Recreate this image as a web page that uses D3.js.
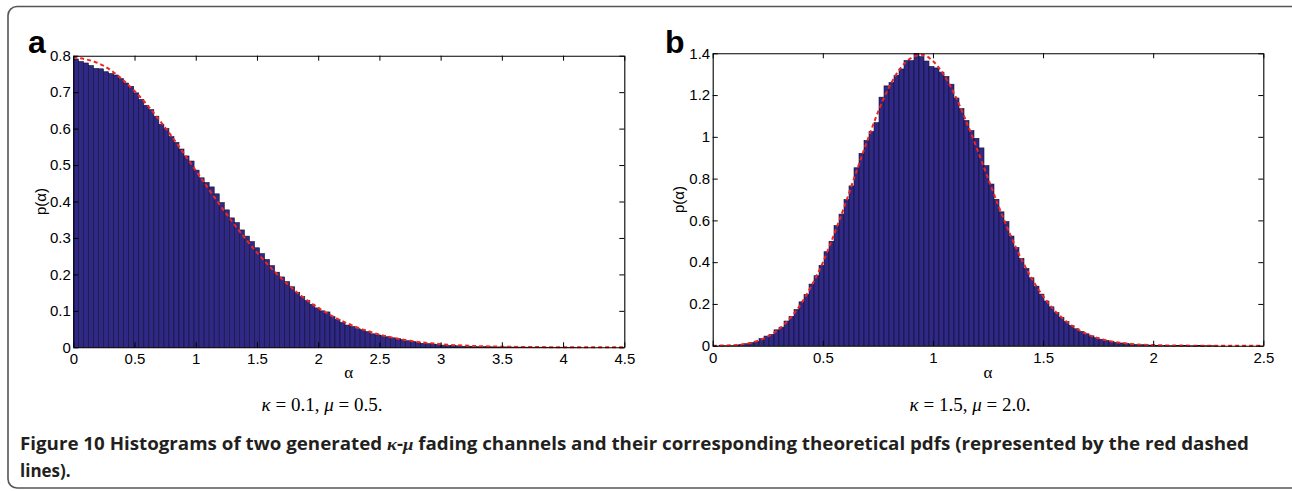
<!DOCTYPE html>
<html>
<head>
<meta charset="utf-8">
<script src="https://cdn.jsdelivr.net/npm/d3@7"></script>
<style>
  html, body { margin: 0; padding: 0; background: #fff; }
  svg { display: block; }
</style>
</head>
<body>
<svg id="fig" width="1292" height="491"></svg>
<script>
// ---- Panel a: kappa = 0.1, mu = 0.5 ----
const binStartA = 0;
const binWidthA = 0.0411;
const densityA = [
  0.791, 0.784, 0.780, 0.773, 0.765, 0.764, 0.756, 0.751, 0.747, 0.737,
  0.725, 0.716, 0.698, 0.680, 0.664, 0.652, 0.634, 0.612, 0.600, 0.578,
  0.562, 0.544, 0.525, 0.511, 0.486, 0.465, 0.452, 0.440, 0.421, 0.397,
  0.377, 0.355, 0.342, 0.322, 0.305, 0.290, 0.273, 0.257, 0.241, 0.224,
  0.206, 0.193, 0.180, 0.166, 0.151, 0.139, 0.128, 0.118, 0.108, 0.100,
  0.097, 0.084, 0.076, 0.068, 0.061, 0.057, 0.051, 0.048, 0.043, 0.037,
  0.034, 0.032, 0.029, 0.026, 0.024, 0.021, 0.018, 0.016, 0.013, 0.011,
  0.010, 0.009, 0.008, 0.006, 0.005, 0.0045, 0.004, 0.003, 0.003, 0.0025,
  0.002, 0.002, 0.0015, 0.0012, 0.001, 0.001, 0.0008, 0.0006, 0.0005, 0.0004,
  0.0003, 0.0003, 0.0002, 0.0002, 0.0001, 0.0001, 0.0001, 0.0001, 0.0001, 0.0001
];
const pdfAlphaA = [0, 0.25, 0.5, 0.75, 1, 1.25, 1.5, 1.75, 2, 2.25, 2.5, 2.75, 3, 3.25, 3.5, 3.75, 4, 4.25, 4.5];
const pdfValueA = [0.796, 0.772, 0.703, 0.603, 0.485, 0.366, 0.260, 0.173, 0.108, 0.064, 0.035, 0.018, 0.0087, 0.0039, 0.0017, 0.0007, 0.0002, 0.0001, 0.00002];
const xTicksA = [0, 0.5, 1, 1.5, 2, 2.5, 3, 3.5, 4, 4.5];
const yTicksA = [0, 0.1, 0.2, 0.3, 0.4, 0.5, 0.6, 0.7, 0.8];

// ---- Panel b: kappa = 1.5, mu = 2.0 ----
const binStartB = 0.006;
const binWidthB = 0.0227;
const densityB = [
  0, 0.0002, 0.0006, 0.0016, 0.0033, 0.0055, 0.0095, 0.0145, 0.021, 0.034,
  0.046, 0.054, 0.076, 0.089, 0.118, 0.140, 0.173, 0.210, 0.245, 0.295,
  0.335, 0.385, 0.450, 0.500, 0.575, 0.630, 0.700, 0.765, 0.852, 0.921,
  0.983, 1.025, 1.068, 1.190, 1.244, 1.260, 1.295, 1.325, 1.365, 1.365,
  1.400, 1.384, 1.363, 1.337, 1.330, 1.310, 1.289, 1.252, 1.186, 1.135,
  1.078, 1.030, 0.993, 0.947, 0.862, 0.774, 0.701, 0.641, 0.594, 0.525,
  0.470, 0.418, 0.370, 0.325, 0.285, 0.247, 0.214, 0.186, 0.159, 0.136,
  0.115, 0.097, 0.081, 0.068, 0.057, 0.047, 0.038, 0.031, 0.025, 0.020,
  0.016, 0.013, 0.010, 0.008, 0.006, 0.0047, 0.0036, 0.0028, 0.0021, 0.0016,
  0.0012, 0.0009, 0.0007, 0.0005, 0.0004, 0.0003, 0.0002, 0.0002, 0.0001, 0.0001
];
const pdfAlphaB = [0, 0.1, 0.15, 0.2, 0.25, 0.3, 0.35, 0.4, 0.45, 0.5, 0.55, 0.6, 0.65, 0.7, 0.75, 0.8, 0.85, 0.9, 0.95, 1.0,
                   1.05, 1.1, 1.15, 1.2, 1.25, 1.3, 1.35, 1.4, 1.45, 1.5, 1.55, 1.6, 1.65, 1.7, 1.75, 1.8, 1.9, 2.0, 2.1, 2.2, 2.5];
const pdfValueB = [0, 0.0026, 0.0089, 0.0217, 0.044, 0.079, 0.130, 0.199, 0.290, 0.398, 0.530, 0.673, 0.826, 0.976, 1.117, 1.236, 1.325, 1.377, 1.393, 1.363,
                   1.296, 1.199, 1.077, 0.943, 0.802, 0.663, 0.534, 0.418, 0.319, 0.237, 0.171, 0.121, 0.083, 0.055, 0.036, 0.023, 0.0084, 0.0028, 0.0008, 0.0002, 0];
const xTicksB = [0, 0.5, 1, 1.5, 2, 2.5];
const yTicksB = [0, 0.2, 0.4, 0.6, 0.8, 1, 1.2, 1.4];

const panels = [
  { tag: "a", binStart: binStartA, binWidth: binWidthA, density: densityA,
    pdfX: pdfAlphaA, pdfY: pdfValueA, xTicks: xTicksA, yTicks: yTicksA,
    xDomain: [0, 4.5], yDomain: [0, 0.8],
    left: 73.3, right: 624.3, top: 55.7, bottom: 347.3,
    tagX: 28, tagY: 53, ylabX: 46, capX: 322, caption: ["0.1", "0.5"] },
  { tag: "b", binStart: binStartB, binWidth: binWidthB, density: densityB,
    pdfX: pdfAlphaB, pdfY: pdfValueB, xTicks: xTicksB, yTicks: yTicksB,
    xDomain: [0, 2.5], yDomain: [0, 1.4],
    left: 712.7, right: 1263.3, top: 53.3, bottom: 345.7,
    tagX: 665, tagY: 53, ylabX: 684, capX: 970, caption: ["1.5", "2.0"] }
];

const svg = d3.select("#fig");

// outer rounded frame (its right side runs off the page edge)
svg.append("rect")
  .attr("x", 8).attr("y", 6.5).attr("width", 1294).attr("height", 481.5)
  .attr("rx", 9).attr("ry", 9)
  .attr("fill", "#fff").attr("stroke", "#555").attr("stroke-width", 1.6);

const tickFont = "'Liberation Sans', Arial, Helvetica, sans-serif";
const fmt = d => String(+d.toFixed(2));

panels.forEach(p => {
  const x = d3.scaleLinear().domain(p.xDomain).range([p.left, p.right]);
  const y = d3.scaleLinear().domain(p.yDomain).range([p.bottom, p.top]);
  const g = svg.append("g");

  // histogram bars
  g.append("g").selectAll("rect")
    .data(p.density)
    .join("rect")
    .attr("x", (d, i) => x(p.binStart + i * p.binWidth))
    .attr("width", (d, i) => x(p.binStart + (i + 1) * p.binWidth) - x(p.binStart + i * p.binWidth))
    .attr("y", d => y(d))
    .attr("height", d => y(0) - y(d))
    .attr("fill", "#2f2884")
    .attr("stroke", "#110f33")
    .attr("stroke-width", 0.6);

  // theoretical pdf
  const line = d3.line()
    .x((d, i) => x(p.pdfX[i]))
    .y(d => y(d))
    .curve(d3.curveMonotoneX);
  g.append("path")
    .attr("d", line(p.pdfY))
    .attr("fill", "none")
    .attr("stroke", "#f0261e")
    .attr("stroke-width", 2)
    .attr("stroke-dasharray", "4,3");

  // axes (box with inward ticks)
  const axB = g.append("g").attr("transform", `translate(0,${p.bottom})`)
    .call(d3.axisBottom(x).tickValues(p.xTicks).tickFormat(fmt).tickSizeInner(-5).tickSizeOuter(0).tickPadding(6.5));
  const axT = g.append("g").attr("transform", `translate(0,${p.top})`)
    .call(d3.axisTop(x).tickValues(p.xTicks).tickFormat("").tickSizeInner(-5).tickSizeOuter(0));
  const axL = g.append("g").attr("transform", `translate(${p.left},0)`)
    .call(d3.axisLeft(y).tickValues(p.yTicks).tickFormat(fmt).tickSizeInner(-5).tickSizeOuter(0).tickPadding(2.5));
  const axR = g.append("g").attr("transform", `translate(${p.right},0)`)
    .call(d3.axisRight(y).tickValues(p.yTicks).tickFormat("").tickSizeInner(-5).tickSizeOuter(0));
  [axB, axT, axL, axR].forEach(a => {
    a.select(".domain").attr("stroke", "#000").attr("stroke-width", 1.1);
    a.selectAll(".tick line").attr("stroke", "#000").attr("stroke-width", 1);
    a.selectAll("text").attr("font-family", tickFont).attr("font-size", 15).attr("fill", "#000");
  });

  // axis titles
  g.append("text")
    .attr("x", (p.left + p.right) / 2).attr("y", 378)
    .attr("text-anchor", "middle")
    .attr("font-family", "'Liberation Serif', serif").attr("font-size", 17)
    .text("α");
  g.append("text")
    .attr("transform", `translate(${p.ylabX},${(p.top + p.bottom) / 2}) rotate(-90)`)
    .attr("text-anchor", "middle")
    .attr("font-family", tickFont).attr("font-size", 15)
    .text("p(α)");

  // panel tag
  g.append("text")
    .attr("x", p.tagX).attr("y", p.tagY)
    .attr("font-family", "'Liberation Sans', Arial, sans-serif").attr("font-weight", "bold").attr("font-size", 32)
    .text(p.tag);

  // parameter caption
  const cap = g.append("text")
    .attr("x", p.capX).attr("y", 411)
    .attr("text-anchor", "middle")
    .attr("font-family", "'Liberation Serif', 'DejaVu Serif', serif").attr("font-size", 19);
  cap.append("tspan").attr("font-style", "italic").text("κ");
  cap.append("tspan").text(" = " + p.caption[0] + ", ");
  cap.append("tspan").attr("font-style", "italic").text("μ");
  cap.append("tspan").text(" = " + p.caption[1] + ".");
});

// figure caption
const capFont = "'Open Sans', 'Noto Sans', sans-serif";
const l1 = svg.append("text")
  .attr("x", 20).attr("y", 450)
  .attr("font-family", capFont).attr("font-weight", "bold").attr("font-size", 17)
  .attr("fill", "#231f20")
  .attr("textLength", 1229).attr("lengthAdjust", "spacingAndGlyphs");
l1.append("tspan").text("Figure 10 Histograms of two generated ");
l1.append("tspan").attr("font-style", "italic").attr("font-family", "'Liberation Serif', serif").text("κ");
l1.append("tspan").text("-");
l1.append("tspan").attr("font-style", "italic").attr("font-family", "'Liberation Serif', serif").text("μ");
l1.append("tspan").text(" fading channels and their corresponding theoretical pdfs (represented by the red dashed");
svg.append("text")
  .attr("x", 20).attr("y", 477)
  .attr("font-family", capFont).attr("font-weight", "bold").attr("font-size", 17)
  .attr("fill", "#231f20")
  .text("lines).");
</script>
</body>
</html>
